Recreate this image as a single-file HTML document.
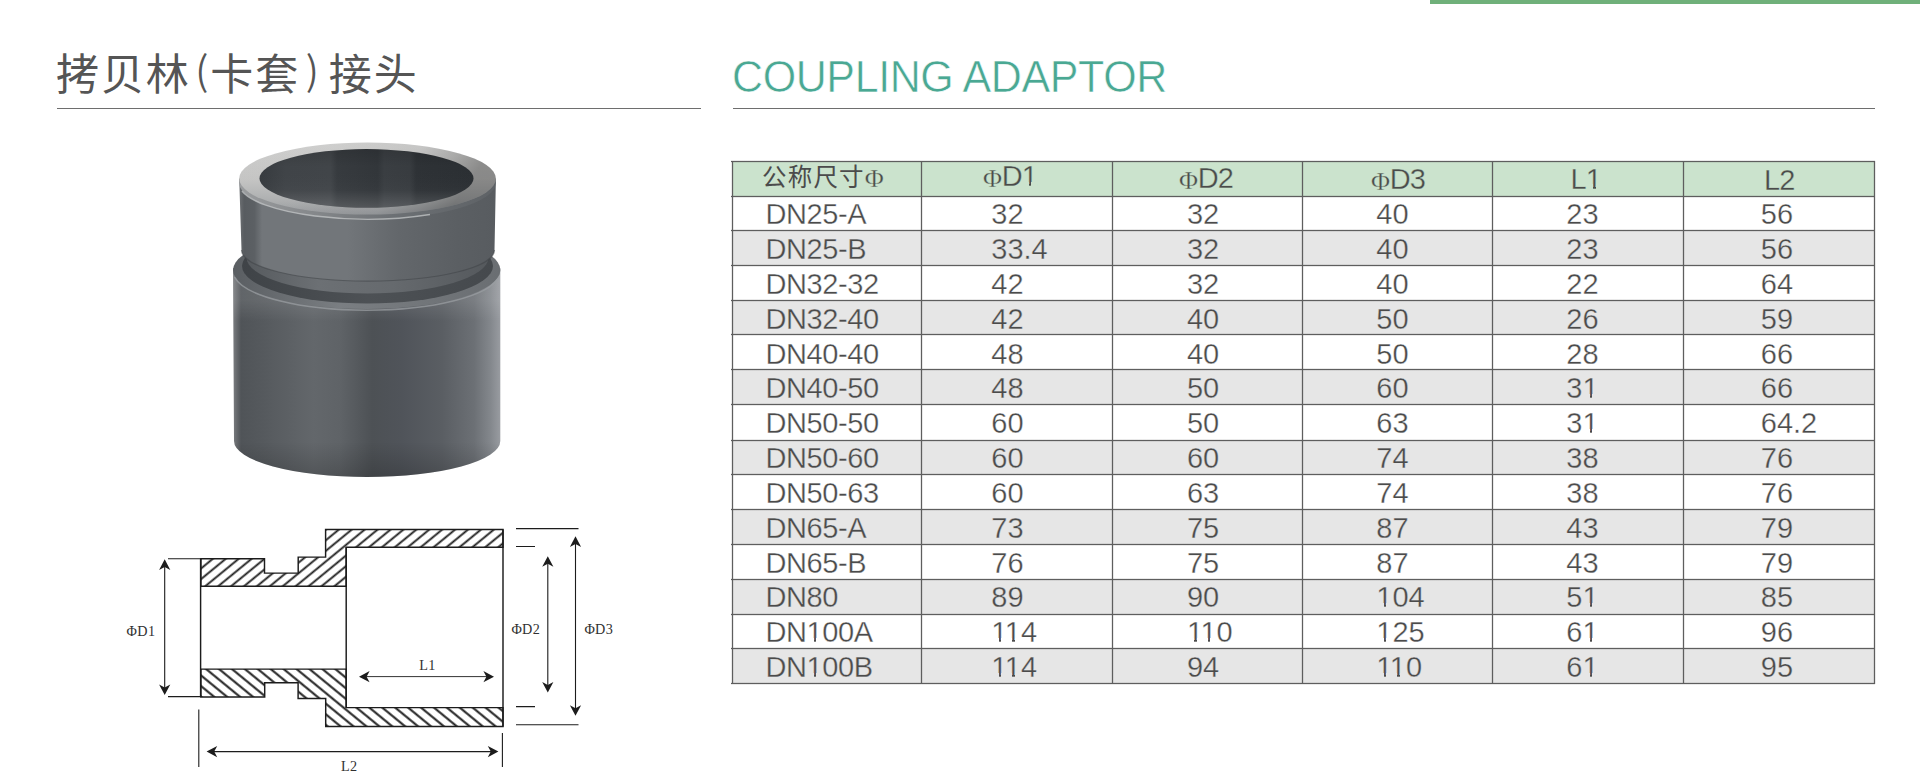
<!DOCTYPE html>
<html lang="zh">
<head>
<meta charset="utf-8">
<title>COUPLING ADAPTOR</title>
<style>
html,body{margin:0;padding:0;background:#fff;}
body{width:1920px;height:781px;position:relative;overflow:hidden;font-family:"Liberation Sans","Noto Sans CJK SC",sans-serif;color:#4a4a4a;}
.topbar{position:absolute;left:1430.3px;top:0;width:490px;height:4.4px;background:#6fb07a;}
.h-cn{position:absolute;left:56px;top:41px;font-size:43px;line-height:60px;letter-spacing:1.9px;color:#555555;font-family:"Noto Sans CJK SC","Liberation Sans",sans-serif;white-space:nowrap;}
.h-en{position:absolute;left:732px;top:47px;font-size:43px;line-height:60px;color:#4aa893;white-space:nowrap;letter-spacing:-0.4px;transform:scaleY(1.045);transform-origin:0 44.9px;-webkit-text-stroke:0.55px #fff;}
.h-cn .p1,.h-cn .p2{font-size:39.6px;font-weight:350;position:relative;top:-5.2px;}
.h-cn .p1{margin:0 0 0 4.6px;}
.h-cn .p2{margin:0 8.1px 0 5.5px;}
.rule{position:absolute;height:1.1px;background:#6e6e6e;top:108px;}
.rb{position:absolute;left:732px;width:1142px;}
.hl{position:absolute;left:731px;width:1144px;height:3px;background:linear-gradient(to bottom,rgba(80,80,80,.13) 0 1px,#5e5e5e 1px 2px,rgba(80,80,80,.13) 2px 3px);}
.vl{position:absolute;top:161px;height:523px;width:3px;background:linear-gradient(to right,rgba(80,80,80,.13) 0 1px,#5e5e5e 1px 2px,rgba(80,80,80,.13) 2px 3px);}
.tx{position:absolute;font-size:29px;line-height:34.7px;height:34.7px;white-space:nowrap;color:#4b4b4b;letter-spacing:0px;-webkit-text-stroke:0.32px var(--bg,#fff);}
.tx .o{position:relative;}
.tx .k{margin-left:-2.6px;}
.tx .o::before,.tx .o::after{content:"";position:absolute;top:0.74em;height:0.25em;background:var(--bg,#fff);}
.tx .o::before{left:0.03em;width:0.226em;}
.tx .o::after{left:0.336em;width:0.21em;}
.tx .cj{font-family:"Noto Sans CJK SC",sans-serif;font-weight:400;font-size:24.5px;letter-spacing:1.2px;-webkit-text-stroke:0;}
.tx .phi{font-family:"Liberation Serif",serif;font-size:26px;-webkit-text-stroke:0.3px var(--bg,#fff);position:relative;top:1px;margin-right:-0.4px;letter-spacing:0;}
.tx.hd{letter-spacing:-0.9px;}
svg{position:absolute;left:0;top:0;}
</style>
</head>
<body>
<div class="topbar"></div>
<div class="h-cn">拷贝林<span class="p1">(</span>卡套<span class="p2">)</span>接头</div>
<div class="h-en">COUPLING ADAPTOR</div>
<div class="rule" style="left:56.7px;width:644.2px"></div>
<div class="rule" style="left:732.8px;width:1142.7px"></div>
<svg width="700" height="781" viewBox="0 0 700 781">
<defs>
  <linearGradient id="gLow" x1="233" x2="501" y1="0" y2="0" gradientUnits="userSpaceOnUse">
    <stop offset="0" stop-color="#7b7d80"/>
    <stop offset="0.03" stop-color="#505458"/>
    <stop offset="0.12" stop-color="#565a5e"/>
    <stop offset="0.3" stop-color="#63676b"/>
    <stop offset="0.4" stop-color="#5f6367"/>
    <stop offset="0.52" stop-color="#4d5155"/>
    <stop offset="0.63" stop-color="#50545a"/>
    <stop offset="0.78" stop-color="#5a5e63"/>
    <stop offset="0.9" stop-color="#6c7075"/>
    <stop offset="0.96" stop-color="#83878c"/>
    <stop offset="1" stop-color="#9a9da2"/>
  </linearGradient>
  <linearGradient id="gLowY" x1="0" x2="0" y1="300" y2="477" gradientUnits="userSpaceOnUse">
    <stop offset="0" stop-color="#fff" stop-opacity="0.10"/>
    <stop offset="0.12" stop-color="#fff" stop-opacity="0"/>
    <stop offset="0.8" stop-color="#000" stop-opacity="0"/>
    <stop offset="1" stop-color="#000" stop-opacity="0.18"/>
  </linearGradient>
  <linearGradient id="gLowTop" x1="233" x2="501" y1="0" y2="0" gradientUnits="userSpaceOnUse">
    <stop offset="0" stop-color="#5a5e62"/>
    <stop offset="0.4" stop-color="#7a7e82"/>
    <stop offset="1" stop-color="#6a6e72"/>
  </linearGradient>
  <linearGradient id="gGroove" x1="240" x2="494" y1="0" y2="0" gradientUnits="userSpaceOnUse">
    <stop offset="0" stop-color="#3f4347"/>
    <stop offset="0.5" stop-color="#4d5155"/>
    <stop offset="1" stop-color="#45494d"/>
  </linearGradient>
  <linearGradient id="gCham" x1="246" x2="489" y1="0" y2="0" gradientUnits="userSpaceOnUse">
    <stop offset="0" stop-color="#565a5e"/>
    <stop offset="0.3" stop-color="#6c7074"/>
    <stop offset="0.6" stop-color="#666a6e"/>
    <stop offset="1" stop-color="#55595d"/>
  </linearGradient>
  <linearGradient id="gUp" x1="239" x2="496" y1="0" y2="0" gradientUnits="userSpaceOnUse">
    <stop offset="0" stop-color="#6e7174"/>
    <stop offset="0.02" stop-color="#585c60"/>
    <stop offset="0.06" stop-color="#5c6064"/>
    <stop offset="0.09" stop-color="#72767a"/>
    <stop offset="0.42" stop-color="#72767a"/>
    <stop offset="0.62" stop-color="#63676b"/>
    <stop offset="0.85" stop-color="#5b5f63"/>
    <stop offset="1" stop-color="#585c60"/>
  </linearGradient>
  <linearGradient id="gTop" x1="0" x2="0" y1="143" y2="215" gradientUnits="userSpaceOnUse">
    <stop offset="0" stop-color="#cdcdcc"/>
    <stop offset="0.5" stop-color="#c3c3c2"/>
    <stop offset="0.8" stop-color="#abadae"/>
    <stop offset="1" stop-color="#94979a"/>
  </linearGradient>
  <linearGradient id="gRim" x1="239" x2="496" y1="0" y2="0" gradientUnits="userSpaceOnUse">
    <stop offset="0" stop-color="#9a9c9e"/>
    <stop offset="0.3" stop-color="#84878a"/>
    <stop offset="0.6" stop-color="#6c7074"/>
    <stop offset="1" stop-color="#5e6266"/>
  </linearGradient>
  <linearGradient id="gTopX" x1="330" x2="440" y1="150" y2="225" gradientUnits="userSpaceOnUse">
    <stop offset="0" stop-color="#fff" stop-opacity="0.03"/>
    <stop offset="0.55" stop-color="#000" stop-opacity="0.03"/>
    <stop offset="0.8" stop-color="#000" stop-opacity="0.16"/>
    <stop offset="1" stop-color="#000" stop-opacity="0.3"/>
  </linearGradient>
  <linearGradient id="gHoleX" x1="260" x2="474" y1="0" y2="0" gradientUnits="userSpaceOnUse">
    <stop offset="0" stop-color="#373b3f"/>
    <stop offset="0.12" stop-color="#404448"/>
    <stop offset="0.33" stop-color="#414549"/>
    <stop offset="0.36" stop-color="#373b3f"/>
    <stop offset="0.55" stop-color="#32363a"/>
    <stop offset="0.58" stop-color="#3a3e42"/>
    <stop offset="0.7" stop-color="#383c40"/>
    <stop offset="0.73" stop-color="#2e3236"/>
    <stop offset="1" stop-color="#2b2f33"/>
  </linearGradient>
  <linearGradient id="gHole" x1="0" x2="0" y1="149" y2="208" gradientUnits="userSpaceOnUse">
    <stop offset="0" stop-color="#000" stop-opacity="0.12"/>
    <stop offset="0.3" stop-color="#000" stop-opacity="0"/>
    <stop offset="0.7" stop-color="#fff" stop-opacity="0.02"/>
    <stop offset="1" stop-color="#fff" stop-opacity="0.16"/>
  </linearGradient>
  <pattern id="hA" width="20" height="8.2" patternUnits="userSpaceOnUse" patternTransform="translate(205.8 585.8) rotate(-39.4) translate(0 -4.1)">
    <rect width="20" height="8.2" fill="#fff"/><line x1="0" y1="4.1" x2="20" y2="4.1" stroke="#1c1c1c" stroke-width="1.85"/>
  </pattern>
  <pattern id="hB" width="20" height="8.2" patternUnits="userSpaceOnUse" patternTransform="translate(205.8 668.75) rotate(39.4) translate(0 -4.1)">
    <rect width="20" height="8.2" fill="#fff"/><line x1="0" y1="4.1" x2="20" y2="4.1" stroke="#1c1c1c" stroke-width="2"/>
  </pattern>
  <path id="ah" d="M0 0 L5.6 10.6 L0 7.6 L-5.6 10.6 Z" fill="#1c1c1c"/>
</defs>
<!-- ===== product photo (vector approximation) ===== -->
<g id="photo">
  <!-- lower cylinder body -->
  <path d="M233 268 L234 441 A133 36 0 0 0 500.3 441 L500.3 268 Z" fill="url(#gLow)"/>
  <path d="M233 268 L234 441 A133 36 0 0 0 500.3 441 L500.3 268 Z" fill="url(#gLowY)"/>
  <!-- lower cylinder top face -->
  <ellipse cx="366.7" cy="270" rx="133.7" ry="39" fill="url(#gLowTop)"/>
  <path d="M234.5 277 A133.7 39 0 0 0 499 277" fill="none" stroke="#9a9ea2" stroke-opacity="0.75" stroke-width="1.6"/>
  <!-- groove shadow -->
  <ellipse cx="367.5" cy="266" rx="125.5" ry="37.5" fill="url(#gGroove)"/>
  <!-- chamfer band -->
  <ellipse cx="367.5" cy="257.5" rx="121" ry="36" fill="url(#gCham)"/>
  <!-- upper ring body -->
  <path d="M239.2 178.6 L241.5 250 A126 31 0 0 0 494.5 250 L495.9 178.6 Z" fill="url(#gUp)"/>
  <path d="M241.5 250 A126 31 0 0 0 494.5 250" fill="none" stroke="#3f4347" stroke-opacity="0.55" stroke-width="1.2"/>
  <!-- rounded rim band -->
  <ellipse cx="367.5" cy="183" rx="128.2" ry="36" fill="url(#gRim)"/>
  <!-- top face -->
  <ellipse cx="367.5" cy="178.6" rx="128.3" ry="36" fill="url(#gTop)"/>
  <ellipse cx="367.5" cy="178.6" rx="128.3" ry="36" fill="url(#gTopX)"/>
  <path d="M242 191 A128.2 36 0 0 0 430 214.5" fill="none" stroke="#c6c8ca" stroke-opacity="0.75" stroke-width="1.4"/>
  <!-- hole -->
  <ellipse cx="366.5" cy="178.4" rx="107" ry="29.3" fill="url(#gHoleX)"/>
  <ellipse cx="366.5" cy="178.4" rx="107" ry="29.3" fill="url(#gHole)"/>
</g>
<!-- ===== section drawing ===== -->
<g id="drawing" fill="none" stroke="#1c1c1c" stroke-width="1.45" stroke-linecap="butt">
  <path d="M200.9 558.7 H264.5 V573.1 H298.2 V557.1 H325.6 V529.4 H503 V547.3 H346.2 V586.2 H200.9 Z" fill="url(#hA)"/>
  <path d="M200.9 697 H264.7 V682.8 H298.1 V698.4 H325.7 V726.4 H503 V707.6 H346.2 V669.1 H200.9 Z" fill="url(#hB)"/>
  <path d="M200.6 558.7 V697 M346.2 547 V708 M503 529.4 V726.4"/>
  <!-- D1 -->
  <path d="M168 558.7 H201 M168 696.6 H201 M164.7 562 V693" stroke-width="1.1"/>
  <!-- D2 D3 -->
  <path d="M516 546.5 H535 M516 706.6 H535 M547.8 560 V689" stroke-width="1.1"/>
  <path d="M516 528.6 H578.5 M516 724.8 H578.5 M575.5 540 V712" stroke-width="1.1"/>
  <!-- L1 L2 -->
  <path d="M363 676.6 H490" stroke-width="0.9"/>
  <path d="M198.8 709.5 V767 M502.4 733 V767 M211 751.6 H494" stroke-width="1.1"/>
</g>
<g id="arrows">
  <use href="#ah" transform="translate(164.7 559.3)"/>
  <use href="#ah" transform="translate(164.7 695) rotate(180)"/>
  <use href="#ah" transform="translate(547.8 556.2)"/>
  <use href="#ah" transform="translate(547.8 692.5) rotate(180)"/>
  <use href="#ah" transform="translate(575.5 536.3)"/>
  <use href="#ah" transform="translate(575.5 715.8) rotate(180)"/>
  <use href="#ah" transform="translate(359 676.7) rotate(-90)"/>
  <use href="#ah" transform="translate(494 676.7) rotate(90)"/>
  <use href="#ah" transform="translate(206.6 751.6) rotate(-90)"/>
  <use href="#ah" transform="translate(498.4 751.6) rotate(90)"/>
</g>
<g font-family="'Liberation Serif',serif" font-size="14.2" letter-spacing="0.35" fill="#303030">
  <text x="126.6" y="636.2">ΦD1</text>
  <text x="511.4" y="633.6">ΦD2</text>
  <text x="584.4" y="633.6">ΦD3</text>
  <text x="419.3" y="669.8">L1</text>
  <text x="341" y="771">L2</text>
</g>
</svg>

<div class="rb" style="top:161.60px;height:34.80px;background:#cbe3cd"></div>
<div class="rb" style="top:196.40px;height:34.10px;background:#ffffff"></div>
<div class="rb" style="top:230.50px;height:34.80px;background:#e6e6e6"></div>
<div class="rb" style="top:265.30px;height:35.20px;background:#ffffff"></div>
<div class="rb" style="top:300.50px;height:34.50px;background:#e6e6e6"></div>
<div class="rb" style="top:335.00px;height:34.60px;background:#ffffff"></div>
<div class="rb" style="top:369.60px;height:35.40px;background:#e6e6e6"></div>
<div class="rb" style="top:405.00px;height:35.40px;background:#ffffff"></div>
<div class="rb" style="top:440.40px;height:34.30px;background:#e6e6e6"></div>
<div class="rb" style="top:474.70px;height:34.80px;background:#ffffff"></div>
<div class="rb" style="top:509.50px;height:35.00px;background:#e6e6e6"></div>
<div class="rb" style="top:544.50px;height:34.90px;background:#ffffff"></div>
<div class="rb" style="top:579.40px;height:34.60px;background:#e6e6e6"></div>
<div class="rb" style="top:614.00px;height:34.90px;background:#ffffff"></div>
<div class="rb" style="top:648.90px;height:34.30px;background:#e6e6e6"></div>
<div class="hl" style="top:160px"></div>
<div class="hl" style="top:195px"></div>
<div class="hl" style="top:229px"></div>
<div class="hl" style="top:264px"></div>
<div class="hl" style="top:299px"></div>
<div class="hl" style="top:333px"></div>
<div class="hl" style="top:368px"></div>
<div class="hl" style="top:403px"></div>
<div class="hl" style="top:439px"></div>
<div class="hl" style="top:473px"></div>
<div class="hl" style="top:508px"></div>
<div class="hl" style="top:543px"></div>
<div class="hl" style="top:578px"></div>
<div class="hl" style="top:613px"></div>
<div class="hl" style="top:647px"></div>
<div class="hl" style="top:682px"></div>
<div class="vl" style="left:731px"></div>
<div class="vl" style="left:920px"></div>
<div class="vl" style="left:1111px"></div>
<div class="vl" style="left:1301px"></div>
<div class="vl" style="left:1491px"></div>
<div class="vl" style="left:1682px"></div>
<div class="vl" style="left:1873px"></div>
<div class="tx hd" style="--bg:#cbe3cd;left:762px;top:159.10px"><span class="cj">公称尺寸</span><span class="phi">Φ</span></div>
<div class="tx hd" style="--bg:#cbe3cd;left:983px;top:159.30px"><span class="phi">Φ</span>D<span class="o">1</span></div>
<div class="tx hd" style="--bg:#cbe3cd;left:1179px;top:161.20px"><span class="phi">Φ</span>D2</div>
<div class="tx hd" style="--bg:#cbe3cd;left:1371px;top:161.50px"><span class="phi">Φ</span>D3</div>
<div class="tx hd" style="--bg:#cbe3cd;left:1570.6px;top:161.70px">L<span class="o">1</span></div>
<div class="tx hd" style="--bg:#cbe3cd;left:1764px;top:162.70px">L2</div>
<div class="tx" style="--bg:#fff;left:765.4px;top:197.10px;letter-spacing:-0.4px">DN25-A</div>
<div class="tx" style="--bg:#fff;left:991.3px;top:197.10px">32</div>
<div class="tx" style="--bg:#fff;left:1186.9px;top:197.10px">32</div>
<div class="tx" style="--bg:#fff;left:1376.3px;top:197.10px">40</div>
<div class="tx" style="--bg:#fff;left:1566.3px;top:197.10px">23</div>
<div class="tx" style="--bg:#fff;left:1760.8px;top:197.10px">56</div>
<div class="tx" style="--bg:#e6e6e6;left:765.4px;top:231.95px;letter-spacing:-0.4px">DN25-B</div>
<div class="tx" style="--bg:#e6e6e6;left:991.3px;top:231.95px">33.4</div>
<div class="tx" style="--bg:#e6e6e6;left:1186.9px;top:231.95px">32</div>
<div class="tx" style="--bg:#e6e6e6;left:1376.3px;top:231.95px">40</div>
<div class="tx" style="--bg:#e6e6e6;left:1566.3px;top:231.95px">23</div>
<div class="tx" style="--bg:#e6e6e6;left:1760.8px;top:231.95px">56</div>
<div class="tx" style="--bg:#fff;left:765.4px;top:266.80px;letter-spacing:-0.4px">DN32-32</div>
<div class="tx" style="--bg:#fff;left:991.3px;top:266.80px">42</div>
<div class="tx" style="--bg:#fff;left:1186.9px;top:266.80px">32</div>
<div class="tx" style="--bg:#fff;left:1376.3px;top:266.80px">40</div>
<div class="tx" style="--bg:#fff;left:1566.3px;top:266.80px">22</div>
<div class="tx" style="--bg:#fff;left:1760.8px;top:266.80px">64</div>
<div class="tx" style="--bg:#e6e6e6;left:765.4px;top:301.65px;letter-spacing:-0.4px">DN32-40</div>
<div class="tx" style="--bg:#e6e6e6;left:991.3px;top:301.65px">42</div>
<div class="tx" style="--bg:#e6e6e6;left:1186.9px;top:301.65px">40</div>
<div class="tx" style="--bg:#e6e6e6;left:1376.3px;top:301.65px">50</div>
<div class="tx" style="--bg:#e6e6e6;left:1566.3px;top:301.65px">26</div>
<div class="tx" style="--bg:#e6e6e6;left:1760.8px;top:301.65px">59</div>
<div class="tx" style="--bg:#fff;left:765.4px;top:336.50px;letter-spacing:-0.4px">DN40-40</div>
<div class="tx" style="--bg:#fff;left:991.3px;top:336.50px">48</div>
<div class="tx" style="--bg:#fff;left:1186.9px;top:336.50px">40</div>
<div class="tx" style="--bg:#fff;left:1376.3px;top:336.50px">50</div>
<div class="tx" style="--bg:#fff;left:1566.3px;top:336.50px">28</div>
<div class="tx" style="--bg:#fff;left:1760.8px;top:336.50px">66</div>
<div class="tx" style="--bg:#e6e6e6;left:765.4px;top:371.35px;letter-spacing:-0.4px">DN40-50</div>
<div class="tx" style="--bg:#e6e6e6;left:991.3px;top:371.35px">48</div>
<div class="tx" style="--bg:#e6e6e6;left:1186.9px;top:371.35px">50</div>
<div class="tx" style="--bg:#e6e6e6;left:1376.3px;top:371.35px">60</div>
<div class="tx" style="--bg:#e6e6e6;left:1566.3px;top:371.35px">3<span class="o">1</span></div>
<div class="tx" style="--bg:#e6e6e6;left:1760.8px;top:371.35px">66</div>
<div class="tx" style="--bg:#fff;left:765.4px;top:406.20px;letter-spacing:-0.4px">DN50-50</div>
<div class="tx" style="--bg:#fff;left:991.3px;top:406.20px">60</div>
<div class="tx" style="--bg:#fff;left:1186.9px;top:406.20px">50</div>
<div class="tx" style="--bg:#fff;left:1376.3px;top:406.20px">63</div>
<div class="tx" style="--bg:#fff;left:1566.3px;top:406.20px">3<span class="o">1</span></div>
<div class="tx" style="--bg:#fff;left:1760.8px;top:406.20px">64.2</div>
<div class="tx" style="--bg:#e6e6e6;left:765.4px;top:441.05px;letter-spacing:-0.4px">DN50-60</div>
<div class="tx" style="--bg:#e6e6e6;left:991.3px;top:441.05px">60</div>
<div class="tx" style="--bg:#e6e6e6;left:1186.9px;top:441.05px">60</div>
<div class="tx" style="--bg:#e6e6e6;left:1376.3px;top:441.05px">74</div>
<div class="tx" style="--bg:#e6e6e6;left:1566.3px;top:441.05px">38</div>
<div class="tx" style="--bg:#e6e6e6;left:1760.8px;top:441.05px">76</div>
<div class="tx" style="--bg:#fff;left:765.4px;top:475.90px;letter-spacing:-0.4px">DN50-63</div>
<div class="tx" style="--bg:#fff;left:991.3px;top:475.90px">60</div>
<div class="tx" style="--bg:#fff;left:1186.9px;top:475.90px">63</div>
<div class="tx" style="--bg:#fff;left:1376.3px;top:475.90px">74</div>
<div class="tx" style="--bg:#fff;left:1566.3px;top:475.90px">38</div>
<div class="tx" style="--bg:#fff;left:1760.8px;top:475.90px">76</div>
<div class="tx" style="--bg:#e6e6e6;left:765.4px;top:510.75px;letter-spacing:-0.4px">DN65-A</div>
<div class="tx" style="--bg:#e6e6e6;left:991.3px;top:510.75px">73</div>
<div class="tx" style="--bg:#e6e6e6;left:1186.9px;top:510.75px">75</div>
<div class="tx" style="--bg:#e6e6e6;left:1376.3px;top:510.75px">87</div>
<div class="tx" style="--bg:#e6e6e6;left:1566.3px;top:510.75px">43</div>
<div class="tx" style="--bg:#e6e6e6;left:1760.8px;top:510.75px">79</div>
<div class="tx" style="--bg:#fff;left:765.4px;top:545.60px;letter-spacing:-0.4px">DN65-B</div>
<div class="tx" style="--bg:#fff;left:991.3px;top:545.60px">76</div>
<div class="tx" style="--bg:#fff;left:1186.9px;top:545.60px">75</div>
<div class="tx" style="--bg:#fff;left:1376.3px;top:545.60px">87</div>
<div class="tx" style="--bg:#fff;left:1566.3px;top:545.60px">43</div>
<div class="tx" style="--bg:#fff;left:1760.8px;top:545.60px">79</div>
<div class="tx" style="--bg:#e6e6e6;left:765.4px;top:580.45px;letter-spacing:-0.4px">DN80</div>
<div class="tx" style="--bg:#e6e6e6;left:991.3px;top:580.45px">89</div>
<div class="tx" style="--bg:#e6e6e6;left:1186.9px;top:580.45px">90</div>
<div class="tx" style="--bg:#e6e6e6;left:1376.3px;top:580.45px"><span class="o">1</span>04</div>
<div class="tx" style="--bg:#e6e6e6;left:1566.3px;top:580.45px">5<span class="o">1</span></div>
<div class="tx" style="--bg:#e6e6e6;left:1760.8px;top:580.45px">85</div>
<div class="tx" style="--bg:#fff;left:765.4px;top:615.30px;letter-spacing:-0.4px">DN<span class="o">1</span>00A</div>
<div class="tx" style="--bg:#fff;left:991.3px;top:615.30px"><span class="o">1</span><span class="o k">1</span>4</div>
<div class="tx" style="--bg:#fff;left:1186.9px;top:615.30px"><span class="o">1</span><span class="o k">1</span>0</div>
<div class="tx" style="--bg:#fff;left:1376.3px;top:615.30px"><span class="o">1</span>25</div>
<div class="tx" style="--bg:#fff;left:1566.3px;top:615.30px">6<span class="o">1</span></div>
<div class="tx" style="--bg:#fff;left:1760.8px;top:615.30px">96</div>
<div class="tx" style="--bg:#e6e6e6;left:765.4px;top:650.15px;letter-spacing:-0.4px">DN<span class="o">1</span>00B</div>
<div class="tx" style="--bg:#e6e6e6;left:991.3px;top:650.15px"><span class="o">1</span><span class="o k">1</span>4</div>
<div class="tx" style="--bg:#e6e6e6;left:1186.9px;top:650.15px">94</div>
<div class="tx" style="--bg:#e6e6e6;left:1376.3px;top:650.15px"><span class="o">1</span><span class="o k">1</span>0</div>
<div class="tx" style="--bg:#e6e6e6;left:1566.3px;top:650.15px">6<span class="o">1</span></div>
<div class="tx" style="--bg:#e6e6e6;left:1760.8px;top:650.15px">95</div>
</body>
</html>
